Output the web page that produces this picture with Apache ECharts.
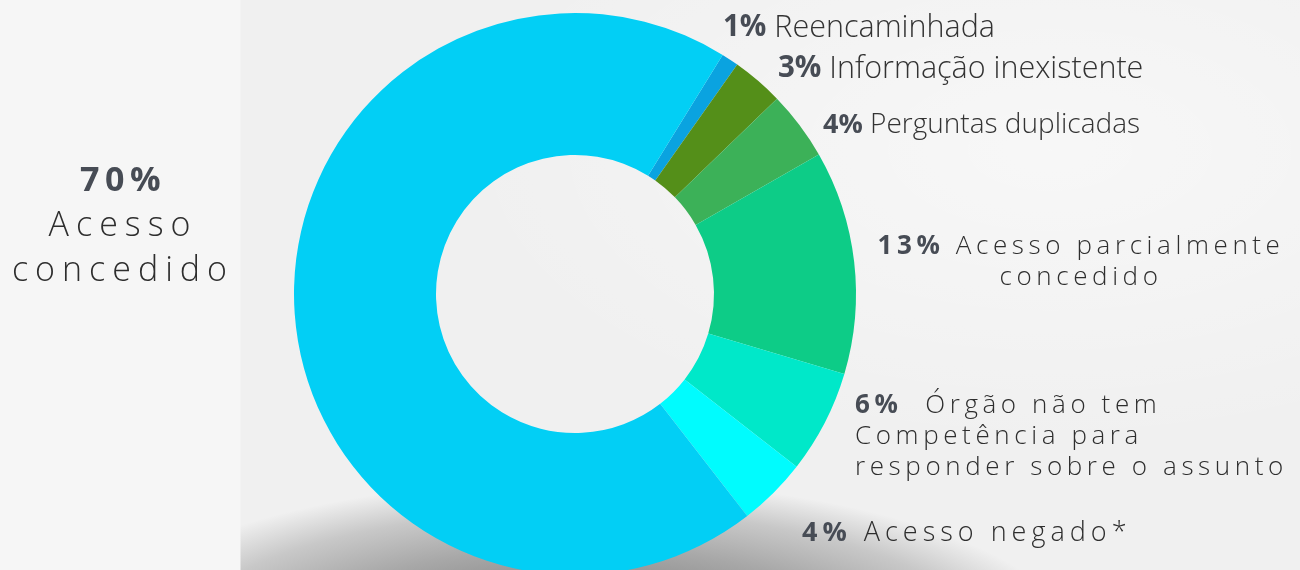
<!DOCTYPE html>
<html>
<head>
<meta charset="utf-8">
<script src="https://cdn.jsdelivr.net/npm/echarts@6/dist/echarts.min.js"></script>
<style>
  html, body { margin: 0; padding: 0; }
  body { width: 1300px; height: 570px; overflow: hidden; background: #f0f0f0; }
  #bg {
    position: absolute; left: 0; top: 0; width: 1300px; height: 570px;
    background-color: #f0f0f0;
    background-image:
      linear-gradient(90deg, #f6f6f6 0px, #f6f6f6 240px, rgba(246,246,246,0) 241px),
      radial-gradient(ellipse 500px 170px at 580px 650px, rgb(120,120,120) 0%, rgb(150,150,150) 45%, rgb(168,168,168) 60%, rgb(200,200,200) 82%, rgba(240,240,240,0) 100%),
      radial-gradient(ellipse 600px 300px at 1050px 150px, rgba(255,255,255,0.5), rgba(255,255,255,0));
  }
  #chart { position: absolute; left: 0; top: 0; width: 1300px; height: 570px; }
</style>
</head>
<body>
<div id="bg"></div>
<div id="chart"></div>
<script>
// ---- data ----
const categories = ['Reencaminhada', 'Informação inexistente', 'Perguntas duplicadas', 'Acesso parcialmente concedido', 'Órgão não tem Competência para responder sobre o assunto', 'Acesso negado*', 'Acesso concedido'];
const values = [1, 3, 4, 13, 6, 4, 70];
const labelLines = [
  ['Reencaminhada'],
  ['Informação inexistente'],
  ['Perguntas duplicadas'],
  ['Acesso parcialmente', 'concedido'],
  [' Órgão não tem', 'Competência para', 'responder sobre o assunto'],
  ['Acesso negado*'],
  ['Acesso', 'concedido']
];

// ---- styling / layout config ----
const colors = ['#0aa3e0', '#548f19', '#3cb158', '#0dcc87', '#00e8c9', '#00fcfe', '#02cff5'];
const styleKey = ['a', 'a', 'e', 'b', 'b', 'd', 'c'];
const labelPos = [
  { x: 723, y: 28, align: 'left' },
  { x: 778, y: 69, align: 'left' },
  { x: 823, y: 125, align: 'left' },
  { x: 1081, y: 262, align: 'center' },
  { x: 855, y: 437, align: 'left' },
  { x: 802, y: 533, align: 'left' },
  { x: 123, y: 226, align: 'center' }
];

// letter spacing support: font family marker "lsA_B" => A.B px letter spacing
(function () {
  const proto = CanvasRenderingContext2D.prototype;
  const desc = Object.getOwnPropertyDescriptor(proto, 'font');
  if (!desc || !('letterSpacing' in proto)) return;
  Object.defineProperty(proto, 'font', {
    configurable: true,
    get() { return desc.get.call(this); },
    set(v) {
      desc.set.call(this, v);
      const m = /ls(\d+)_(\d+)/.exec(v);
      this.letterSpacing = m ? (m[1] + '.' + m[2] + 'px') : '0px';
    }
  });
})();

const PCT = '#474c55';
const TXT = '#2e2e2e';
const rich = {
  pa: { fontFamily: 'Open Sans', fontWeight: 700, fontSize: 29.5, color: PCT },
  na: { fontFamily: 'Open Sans', fontWeight: 300, fontSize: 30.5, color: '#333333' },
  pe: { fontFamily: 'Open Sans', fontWeight: 700, fontSize: 27, color: PCT },
  ne: { fontFamily: 'Open Sans', fontWeight: 300, fontSize: 28, color: '#333333' },
  pb: { fontFamily: 'Open Sans, ls4_6', fontWeight: 700, fontSize: 26, color: PCT, lineHeight: 31 },
  nb: { fontFamily: 'Open Sans, ls4_6', fontWeight: 300, fontSize: 26, color: TXT, lineHeight: 31 },
  pd: { fontFamily: 'Open Sans, ls5_0', fontWeight: 700, fontSize: 27, color: PCT },
  nd: { fontFamily: 'Open Sans, ls5_0', fontWeight: 300, fontSize: 27, color: TXT },
  pc: { fontFamily: 'Open Sans, ls5_5', fontWeight: 700, fontSize: 34, color: PCT, lineHeight: 45 },
  nc: { fontFamily: 'Open Sans, ls7_0', fontWeight: 300, fontSize: 34, color: TXT, lineHeight: 45 }
};

function formatLabel(i) {
  const k = styleKey[i];
  const lines = labelLines[i];
  const pct = values[i] + '%';
  if (k === 'c') {
    return ['{pc|' + pct + '}'].concat(lines.map(l => '{nc|' + l + '}')).join('\n');
  }
  const first = '{p' + k + '|' + pct + '}{n' + k + '| ' + lines[0] + '}';
  return [first].concat(lines.slice(1).map(l => '{n' + k + '|' + l + '}')).join('\n');
}

const chart = echarts.init(document.getElementById('chart'), null, { renderer: 'canvas' });
chart.setOption({
  backgroundColor: 'transparent',
  animation: false,
  series: [{
    type: 'pie',
    center: [575, 294],
    radius: [139, 281],
    startAngle: 58.3,
    clockwise: true,
    silent: true,
    avoidLabelOverlap: false,
    data: categories.map((c, i) => ({ name: c, value: values[i], itemStyle: { color: colors[i] } })),
    itemStyle: { borderWidth: 0 },
    label: {
      show: true,
      position: 'outside',
      formatter: p => formatLabel(p.dataIndex),
      rich: rich
    },
    labelLine: { show: false },
    labelLayout: function (params) {
      const p = labelPos[params.dataIndex];
      return { x: p.x, y: p.y, align: p.align, verticalAlign: 'middle', hideOverlap: false };
    }
  }]
});
</script>
</body>
</html>
